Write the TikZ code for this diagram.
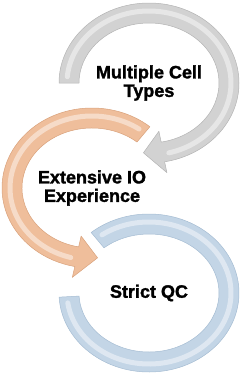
\documentclass[tikz,border=0pt]{standalone}
\usepackage{fontspec}
\setmainfont{Liberation Sans}
\newfontfamily\labfont{Liberation Sans Bold}[FakeBold=1.6]
\usepackage{tikz}
\usetikzlibrary{calc}
\definecolor{greyfill}{HTML}{D2D2D2}
\definecolor{greyedge}{HTML}{B4B4B4}
\definecolor{orangefill}{HTML}{EFBE9B}
\definecolor{orangeedge}{HTML}{D9A27C}
\definecolor{bluefill}{HTML}{C3D5E6}
\definecolor{blueedge}{HTML}{A6BDD3}

\begin{document}
\begin{tikzpicture}[x=1pt,y=1pt,
  band/.style={line width=0.5pt,line join=round},
  shine/.style={line width=5pt,draw=white,opacity=0.45,line cap=round},
  lab/.style={font=\fontsize{18}{18.5}\selectfont\labfont,align=center,text=black}]
\useasboundingbox (0,0) rectangle (245,-378);
\coordinate (cg) at (149,-83);
\coordinate (co) at (92,-188);
\coordinate (cb) at (149,-293);
% blue ring
\filldraw[band,fill=bluefill,draw=blueedge] ($(cb)+(130:90 and 79)$) arc[start angle=130,end angle=-177,x radius=90,y radius=79]
  -- ($(cb)+(-177:70 and 59)$) arc[start angle=-177,end angle=130,x radius=70,y radius=59] -- cycle;
\draw[shine] ($(cb)+(125:82 and 71)$) arc[start angle=125,end angle=-172,x radius=82,y radius=71];
% orange arrow
\filldraw[band,fill=orangefill,draw=orangeedge] ($(co)+(50:90 and 80)$) arc[start angle=50,end angle=259,x radius=90,y radius=80]
  -- ($(co)+(259:103 and 91)$) -- ($(co)+(274:80 and 70)$) -- ($(co)+(259:57 and 49)$)
  -- ($(co)+(259:70 and 60)$) arc[start angle=259,end angle=50,x radius=70,y radius=60] -- cycle;
\draw[shine] ($(co)+(55:82 and 72)$) arc[start angle=55,end angle=255,x radius=82,y radius=72];
% grey arrow
\filldraw[band,fill=greyfill,draw=greyedge] ($(cg)+(180:90 and 80)$) arc[start angle=180,end angle=-80,x radius=90,y radius=80]
  -- ($(cg)+(-80:103 and 91)$) -- ($(cg)+(-94:80 and 70)$) -- ($(cg)+(-80:57 and 49)$)
  -- ($(cg)+(-80:70 and 60)$) arc[start angle=-80,end angle=180,x radius=70,y radius=60] -- cycle;
\draw[shine] ($(cg)+(175:82 and 72)$) arc[start angle=175,end angle=-76,x radius=82,y radius=72];
% labels
\node[lab] (cells) at (cg) {Multiple Cell\\Types};
\node[lab] (expert) at (co) {Extensive IO\\Experience};
\node[lab] (qc) at (cb) {Strict QC};
\end{tikzpicture}
\end{document}
